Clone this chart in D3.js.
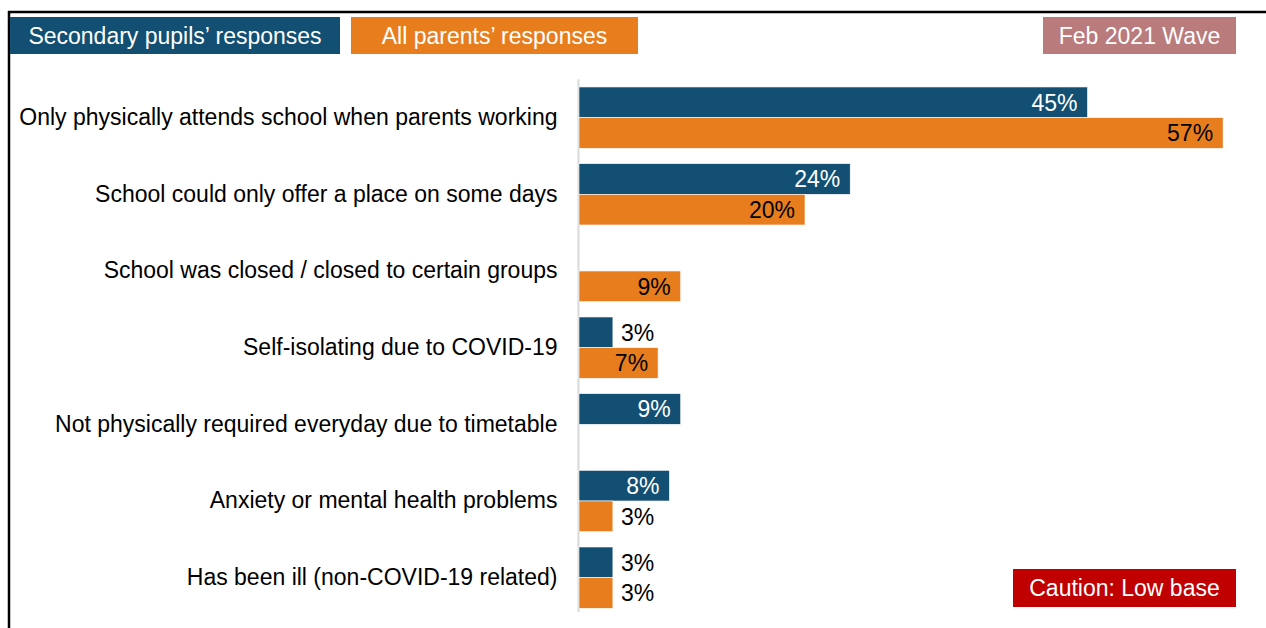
<!DOCTYPE html>
<html>
<head>
<meta charset="utf-8">
<script src="https://cdn.jsdelivr.net/npm/d3@7/dist/d3.min.js"></script>
<style>
  html, body { margin: 0; padding: 0; background: #fff; }
  svg { display: block; font-family: "Liberation Sans", Arial, sans-serif; }
</style>
</head>
<body>
<svg id="chart" width="1266" height="628"></svg>
<script>
// Reasons the child was not attending school (Feb 2021 wave)
const categories = [
  "Only physically attends school when parents working",
  "School could only offer a place on some days",
  "School was closed / closed to certain groups",
  "Self-isolating due to COVID-19",
  "Not physically required everyday due to timetable",
  "Anxiety or mental health problems",
  "Has been ill (non-COVID-19 related)"
];
const seriesNames = ["Secondary pupils\u2019 responses", "All parents\u2019 responses"];
const pupilValues  = [45, 24, null, 3, 9, 8, 3];
const parentValues = [57, 20, 9, 7, null, 3, 3];
const waveLabel = "Feb 2021 Wave";
const cautionLabel = "Caution: Low base";

const colors = { pupils: "#124F73", parents: "#E87D1E", wave: "#B97B7B", caution: "#C00000" };
const FS = 23;

const svg = d3.select("#chart");

// Frame: top rule and left rule
svg.append("line").attr("x1", 8).attr("x2", 1266).attr("y1", 12).attr("y2", 12)
  .attr("stroke", "#000").attr("stroke-width", 2.5);
svg.append("line").attr("x1", 9).attr("x2", 9).attr("y1", 11).attr("y2", 628)
  .attr("stroke", "#000").attr("stroke-width", 2.5);

// Scales
const x = d3.scaleLinear().domain([0, 60]).range([579, 579 + 60 * 11.3]);
const y = d3.scaleBand().domain(categories).range([79.3, 616]).paddingInner(0.2).paddingOuter(0.1);
const sub = d3.scaleBand().domain(["pupils", "parents"]).range([0, y.bandwidth()]);

// Category axis (line only, labels right-aligned)
const yAxis = d3.axisLeft(y).tickSize(0).tickPadding(21);
const gAxis = svg.append("g").attr("transform", `translate(${x(0) - 0.5},0)`).call(yAxis);
gAxis.select(".domain").attr("stroke", "#D9D9D9").attr("stroke-width", 2)
  .attr("d", `M0,${y.range()[0]}V${y.range()[1] - 4}`);
gAxis.selectAll(".tick text").attr("font-size", FS).attr("fill", "#000")
  .attr("font-family", "'Liberation Sans', Arial, sans-serif");

// Bars
const rows = [];
categories.forEach((c, i) => {
  if (pupilValues[i] != null) rows.push({ cat: c, key: "pupils", v: pupilValues[i] });
  if (parentValues[i] != null) rows.push({ cat: c, key: "parents", v: parentValues[i] });
});

const g = svg.append("g");
g.selectAll("rect.bar").data(rows).join("rect")
  .attr("class", "bar")
  .attr("x", x(0))
  .attr("y", d => y(d.cat) + sub(d.key))
  .attr("width", d => x(d.v) - x(0))
  .attr("height", sub.bandwidth())
  .attr("fill", d => colors[d.key])
  .attr("stroke", "#fff").attr("stroke-width", 0.6);

// Value labels: inside the bar end, or just past it for small bars
g.selectAll("text.val").data(rows).join("text")
  .attr("class", "val")
  .attr("font-size", FS)
  .attr("dy", "0.36em")
  .attr("y", d => y(d.cat) + sub(d.key) + sub.bandwidth() / 2)
  .attr("x", d => d.v < 5 ? x(d.v) + 8 : x(d.v) - 10)
  .attr("text-anchor", d => d.v < 5 ? "start" : "end")
  .attr("fill", d => d.v < 5 ? "#000" : (d.key === "pupils" ? "#fff" : "#000"))
  .text(d => d.v + "%");

// Legend boxes and badges
function badge(x0, y0, w, h, fill, label) {
  svg.append("rect").attr("x", x0).attr("y", y0).attr("width", w).attr("height", h).attr("fill", fill);
  svg.append("text").attr("x", x0 + w / 2).attr("y", y0 + h / 2).attr("dy", "0.36em")
    .attr("text-anchor", "middle").attr("font-size", FS).attr("fill", "#fff").text(label);
}
badge(10, 17, 330, 37, colors.pupils, seriesNames[0]);
badge(351, 17, 287, 37, colors.parents, seriesNames[1]);
badge(1043, 17, 193, 37, colors.wave, waveLabel);
badge(1013, 569, 223, 38, colors.caution, cautionLabel);
</script>
</body>
</html>
